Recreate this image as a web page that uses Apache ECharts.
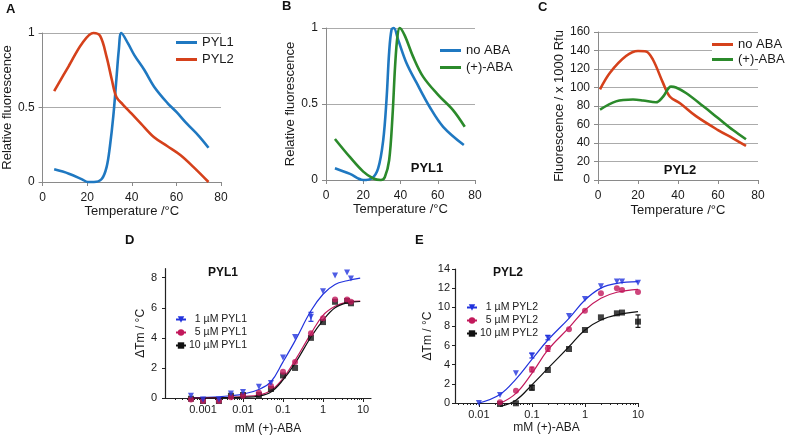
<!DOCTYPE html>
<html><head><meta charset="utf-8">
<script src="https://cdn.jsdelivr.net/npm/echarts@6/dist/echarts.min.js"></script>
<style>html,body{margin:0;padding:0;background:#fff}#c{width:791px;height:437px}</style>
</head><body><div id="c"></div>
<script>
// ---------- Panel A ----------
const aPYL1 = [[5.2,0.085],[11.8,0.056],[17.7,0.018],[20.3,0.0],[23,0.0],[26.5,0.02],[28.7,0.1],[30.2,0.24],[31.7,0.44],[33.1,0.69],[34.2,0.89],[35.3,1.0],[38.3,0.93],[41.2,0.85],[45.7,0.75],[50,0.64],[56,0.53],[60,0.47],[64.8,0.39],[70,0.31],[74.4,0.23]];
const aPYL2 = [[5.2,0.61],[11.8,0.78],[17.7,0.93],[22.8,1.0],[25.8,0.98],[28.7,0.84],[31,0.69],[33.1,0.57],[36,0.52],[39.8,0.46],[44.2,0.39],[50,0.3],[56,0.24],[61.9,0.18],[67.7,0.1],[74.4,0.0]];
// ---------- Panel B (PYL1) ----------
const bNoABA = [[4.8,0.077],[12.9,0.04],[20,0.0],[24.5,0.01],[28,0.077],[30.7,0.26],[32.5,0.53],[33.9,0.84],[35.2,0.99],[36.4,1.0],[38.8,0.92],[43.2,0.77],[48.6,0.64],[55.7,0.48],[62.9,0.35],[74,0.23]];
const bABA = [[4.8,0.27],[12.9,0.15],[20,0.055],[25.4,0.01],[29.5,0.0],[31.6,0.02],[33.9,0.13],[35.7,0.42],[37.1,0.75],[38.4,0.95],[39.6,1.0],[42.3,0.95],[46.8,0.81],[52.1,0.68],[60.2,0.56],[68.2,0.46],[74.5,0.35]];
// ---------- Panel C (PYL2) ----------
const cNoABA = [[1,98],[6,116],[14,134],[20,139.5],[24,139],[27.5,130],[32.5,105],[36,90],[41,83],[49,69],[60,54],[67.5,45],[74,37]];
const cABA = [[1,76],[9,85],[17.5,87],[22.5,86],[29,84],[32.5,90],[36.5,101],[39,100],[44,94],[52.5,80],[60,67],[67.5,54],[74,44]];
// ---------- Panel D (PYL1 dose response) ----------
const concD = [0.0005,0.001,0.0025,0.005,0.01,0.025,0.05,0.1,0.2,0.5,1,2,4,5];
const d1uM  = [0.15,-0.1,-0.1,0.3,0.4,0.75,1.0,2.7,4.05,5.4,7.1,8.15,8.35,7.95];
const d5uM  = [-0.1,-0.2,-0.2,0.05,0.15,0.35,0.8,1.75,2.4,4.3,5.3,6.55,6.55,6.4];
const d10uM = [-0.05,-0.2,-0.2,0.15,0.2,0.2,0.6,1.5,2.0,4.0,5.05,6.4,6.45,6.3];
const fitXD = [0.0005,0.001,0.0025,0.005,0.01,0.025,0.05,0.1,0.2,0.5,1,2,4,8.5];
const fitD1  = [0.02,0.04,0.08,0.15,0.26,0.57,1.08,2.4,3.8,5.8,6.9,7.55,7.8,7.97];
const fitD5  = [0.0,0.01,0.03,0.05,0.1,0.2,0.5,1.3,2.5,4.28,5.5,6.1,6.38,6.45];
const fitD10 = [0.0,0.0,0.01,0.03,0.05,0.13,0.4,1.2,2.3,4.06,5.17,6.0,6.33,6.42];
const errD = [[0.5,5.1,5.7,'#2233dd']];
// ---------- Panel E (PYL2 dose response) ----------
const concE = [0.01,0.025,0.05,0.1,0.2,0.5,1,2,4,5,10];
const e1uM  = [0.0,0.84,3.1,4.95,6.82,9.1,10.87,12.2,12.7,12.7,12.57];
const e5uM  = [null,0.07,1.28,3.5,5.7,7.7,9.65,11.46,12.0,11.8,11.6];
const e10uM = [null,-0.1,-0.03,1.6,3.45,5.64,7.63,8.95,9.37,9.45,8.5];
const fitXE = [0.01,0.025,0.05,0.1,0.2,0.5,1,2,4,10];
const fitE1  = [0.0,0.9,2.5,4.56,6.58,8.85,10.76,12.0,12.5,12.68];
const fitE5  = [null,-0.05,1.0,3.1,5.54,7.87,9.72,10.94,11.57,11.88];
const fitE10 = [null,-0.35,0.3,1.9,3.62,5.88,7.63,8.67,9.2,9.54];
const errE = [[0.1,4.7,5.2,'#2233dd'],[0.2,6.6,7.05,'#2233dd'],[0.1,3.25,3.75,'#c2185b'],[0.2,5.4,6.0,'#c2185b'],[0.1,1.35,1.85,'#111111'],[10,7.9,9.2,'#111111']];
// ---------- tick labels ----------
const tempTicks = [0,20,40,60,80];
const relTicks = [0,0.5,1];
const rfuTicks = [0,20,40,60,80,100,120,140,160];
const logTickVals = [0.001,0.01,0.1,1,10];
const logTickLabels = ['0.001','0.01','0.1','1','10'];
const dYTicks = [0,2,4,6,8];
const eYTicks = [0,2,4,6,8,10,12,14];

const F = '"Liberation Sans", Arial, sans-serif';
const gridCol = '#ababab', axCol = '#8a8a8a', txt = '#1a1a1a';
const BLUE = '#1f78c1', RED = '#d5411b', GREEN = '#2b8a2b';
const DBLUE = '#2233dd', PINK = '#c2185b', BLACK = '#111111';

function minorTicks(lo, hi) {
  const out = [];
  for (let n = -5; n <= 2; n++) for (let k = 2; k <= 9; k++) {
    const v = k * Math.pow(10, n);
    if (v > lo && v < hi) out.push(v);
  }
  return out;
}
const zip = (xs, ys) => xs.map((x, i) => ys[i] == null ? null : [x, ys[i]]).filter(Boolean);

function tempX(g, gap) {
  return {gridIndex: g, type: 'value', min: 0, max: 80, interval: 20,
    axisLine: {lineStyle: {color: axCol}}, axisTick: {length: 4, lineStyle: {color: axCol}},
    axisLabel: {color: txt, fontSize: 12, fontFamily: F, margin: 10},
    splitLine: {show: false},
    name: 'Temperature /°C', nameLocation: 'middle', nameGap: gap,
    nameTextStyle: {color: txt, fontSize: 13, fontFamily: F}};
}
function valY(g, min, max, interval, name, gap, fmt) {
  return {gridIndex: g, type: 'value', min: min, max: max, interval: interval,
    axisLine: {show: true, lineStyle: {color: axCol}}, axisTick: {show: true, length: 4, lineStyle: {color: axCol}},
    axisLabel: {color: txt, fontSize: 12, fontFamily: F, margin: 8, formatter: fmt},
    splitLine: {show: true, lineStyle: {color: gridCol, width: 1}},
    name: name, nameLocation: 'middle', nameGap: gap,
    nameTextStyle: {color: txt, fontSize: 13, fontFamily: F}};
}
function logX(g, lo, hi, margin, gap) {
  return {gridIndex: g, type: 'log', logBase: 10, min: lo, max: hi, position: 'bottom',
    axisLine: {lineStyle: {color: '#222', width: 1.2}},
    axisTick: {show: true, length: 4, customValues: logTickVals, lineStyle: {color: '#222'}},
    axisLabel: {color: txt, fontSize: 11, fontFamily: F, margin: margin, customValues: logTickVals,
      formatter: v => { let b = 0; logTickVals.forEach((t, i) => { if (Math.abs(Math.log10(t) - Math.log10(v)) < 0.01) b = i; }); return logTickLabels[b]; }},
    splitLine: {show: false}, minorTick: {show: false},
    name: 'mM (+)-ABA', nameLocation: 'middle', nameGap: gap,
    nameTextStyle: {color: txt, fontSize: 12, fontFamily: F}};
}
function logMinor(g, lo, hi) {
  return {gridIndex: g, type: 'log', logBase: 10, min: lo, max: hi, position: 'bottom',
    axisLine: {show: false}, axisLabel: {show: false}, splitLine: {show: false},
    axisTick: {show: true, length: 2, customValues: minorTicks(lo, hi), lineStyle: {color: '#222'}}};
}
function doseY(g, max, ticks, margin) {
  return {gridIndex: g, type: 'value', min: 0, max: max,
    axisLine: {show: true, lineStyle: {color: '#222', width: 1.2}},
    axisTick: {show: true, length: 3, customValues: ticks, lineStyle: {color: '#222'}},
    axisLabel: {color: txt, fontSize: 11, fontFamily: F, margin: margin, customValues: ticks},
    splitLine: {show: false},
    name: 'ΔTm / °C', nameLocation: 'middle', nameGap: 16,
    nameTextStyle: {color: txt, fontSize: 12, fontFamily: F}};
}
function tLine(name, data, color, xi) {
  return {name: name, type: 'line', xAxisIndex: xi, yAxisIndex: xi, data: data, smooth: 0.35,
    symbol: 'none', lineStyle: {color: color, width: 2.6}, itemStyle: {color: color}, clip: false, silent: true};
}
function fitLine(name, xs, ys, color, sym, rot, xi, yi) {
  return {name: name, type: 'line', xAxisIndex: xi, yAxisIndex: yi, data: zip(xs, ys), smooth: 0.4,
    symbol: sym, symbolRotate: rot, symbolSize: 6, showSymbol: false,
    lineStyle: {color: color, width: 1.2}, itemStyle: {color: color}, clip: false, silent: true, z: 2};
}
function pts(xs, ys, color, sym, rot, size, xi, yi) {
  return {type: 'scatter', xAxisIndex: xi, yAxisIndex: yi, data: zip(xs, ys), symbol: sym,
    symbolRotate: rot, symbolSize: size, itemStyle: {color: color}, clip: false, silent: true, z: 3};
}
function errBars(list, xi, yi) {
  return {type: 'custom', xAxisIndex: xi, yAxisIndex: yi, data: list, clip: false, silent: true, z: 4,
    renderItem: (p, api) => {
      const d = list[p.dataIndex];
      const a = api.coord([d[0], d[1]]), b = api.coord([d[0], d[2]]);
      const st = {stroke: d[3], lineWidth: 1.2};
      return {type: 'group', children: [
        {type: 'line', shape: {x1: a[0], y1: a[1], x2: b[0], y2: b[1]}, style: st},
        {type: 'line', shape: {x1: a[0] - 2.5, y1: a[1], x2: a[0] + 2.5, y2: a[1]}, style: st},
        {type: 'line', shape: {x1: b[0] - 2.5, y1: b[1], x2: b[0] + 2.5, y2: b[1]}, style: st}]};
    }};
}
function tempLegend(names, left, top, gap) {
  return {orient: 'vertical', left: left, top: top, data: names, icon: 'rect', itemWidth: 21, itemHeight: 3,
    itemGap: gap, selectedMode: false, backgroundColor: '#fff', padding: 0,
    formatter: n => n.split(':').pop(),
    textStyle: {color: txt, fontSize: 13, fontFamily: F, lineHeight: 15}};
}
function doseLegend(names, left, top) {
  return {orient: 'vertical', left: left, top: top, data: names, itemWidth: 10, itemHeight: 8, itemGap: 0,
    selectedMode: false, padding: 0,
    formatter: '{n|{name}}',
    textStyle: {color: txt, fontSize: 10.5, fontFamily: F, lineHeight: 13,
      rich: {n: {width: 56, align: 'right', fontSize: 10.5, fontFamily: F, color: txt}}}};
}

const dLo = Math.pow(10, -3.95), dHi = Math.pow(10, 1.2);
const eLo = Math.pow(10, -2.45), eHi = 10;

const option = {
  animation: false,
  backgroundColor: '#fff',
  textStyle: {fontFamily: F},
  grid: [
    {left: 40, top: 33, width: 181, height: 149},
    {left: 326, top: 28, width: 149, height: 152},
    {left: 598, top: 32, width: 160, height: 148},
    {left: 165, top: 268.7, width: 206, height: 129.3},
    {left: 455, top: 269, width: 183, height: 134}
  ],
  xAxis: [
    tempX(0, 23), tempX(1, 23), tempX(2, 24),
    logX(3, dLo, dHi, 6, 25), logX(4, eLo, eHi, 6, 19),
    logMinor(3, dLo, dHi), logMinor(4, eLo, eHi)
  ],
  yAxis: [
    valY(0, 0, 1, 0.5, 'Relative fluorescence', 22, v => String(v)),
    valY(1, 0, 1, 0.5, 'Relative fluorescence', 27, v => String(v)),
    valY(2, 0, 160, 20, 'Fluorescence / x 1000 Rfu', 30, v => String(v)),
    doseY(3, 8.6, dYTicks, 8), doseY(4, 14, eYTicks, 5)
  ],
  legend: [
    tempLegend(['PYL1', 'PYL2'], 176, 35, 2),
    tempLegend(['B:no ABA', 'B:(+)-ABA'], 440, 43, 2),
    tempLegend(['C:no ABA', 'C:(+)-ABA'], 712, 37, 0),
    doseLegend(['1 µM PYL1', '5 µM PYL1', '10 µM PYL1'], 175, 313),
    doseLegend(['1 µM PYL2', '5 µM PYL2', '10 µM PYL2'], 466, 301)
  ],
  graphic: [
    {type: 'text', left: 6, top: 3, style: {text: 'A', font: 'bold 13px ' + F, fill: '#111'}},
    {type: 'text', left: 282, top: 0, style: {text: 'B', font: 'bold 13px ' + F, fill: '#111'}},
    {type: 'text', left: 538, top: 1, style: {text: 'C', font: 'bold 13px ' + F, fill: '#111'}},
    {type: 'text', left: 125, top: 234, style: {text: 'D', font: 'bold 13px ' + F, fill: '#111'}},
    {type: 'text', left: 415, top: 234, style: {text: 'E', font: 'bold 13px ' + F, fill: '#111'}},
    {type: 'text', x: 427, y: 168, style: {text: 'PYL1', font: 'bold 13px ' + F, fill: '#111', align: 'center', verticalAlign: 'middle'}},
    {type: 'text', x: 680, y: 170, style: {text: 'PYL2', font: 'bold 13px ' + F, fill: '#111', align: 'center', verticalAlign: 'middle'}},
    {type: 'text', x: 223, y: 273, style: {text: 'PYL1', font: 'bold 12px ' + F, fill: '#111', align: 'center', verticalAlign: 'middle'}},
    {type: 'text', x: 508, y: 273, style: {text: 'PYL2', font: 'bold 12px ' + F, fill: '#111', align: 'center', verticalAlign: 'middle'}}
  ],
  series: [
    tLine('PYL1', aPYL1, BLUE, 0), tLine('PYL2', aPYL2, RED, 0),
    tLine('B:no ABA', bNoABA, BLUE, 1), tLine('B:(+)-ABA', bABA, GREEN, 1),
    tLine('C:no ABA', cNoABA, RED, 2), tLine('C:(+)-ABA', cABA, GREEN, 2),
    fitLine('1 µM PYL1', fitXD, fitD1, DBLUE, 'triangle', 180, 3, 3),
    fitLine('5 µM PYL1', fitXD, fitD5, PINK, 'circle', 0, 3, 3),
    fitLine('10 µM PYL1', fitXD, fitD10, BLACK, 'rect', 0, 3, 3),
    pts(concD, d10uM, BLACK, 'rect', 0, 6, 3, 3),
    pts(concD, d5uM, PINK, 'circle', 0, 6, 3, 3),
    pts(concD, d1uM, DBLUE, 'triangle', 180, 6, 3, 3),
    errBars(errD, 3, 3),
    fitLine('1 µM PYL2', fitXE, fitE1, DBLUE, 'triangle', 180, 4, 4),
    fitLine('5 µM PYL2', fitXE, fitE5, PINK, 'circle', 0, 4, 4),
    fitLine('10 µM PYL2', fitXE, fitE10, BLACK, 'rect', 0, 4, 4),
    pts(concE, e10uM, BLACK, 'rect', 0, 6, 4, 4),
    pts(concE, e5uM, PINK, 'circle', 0, 6, 4, 4),
    pts(concE, e1uM, DBLUE, 'triangle', 180, 6, 4, 4),
    errBars(errE, 4, 4)
  ]
};
const chart = echarts.init(document.getElementById('c'));
chart.setOption(option);
</script>
</body></html>
